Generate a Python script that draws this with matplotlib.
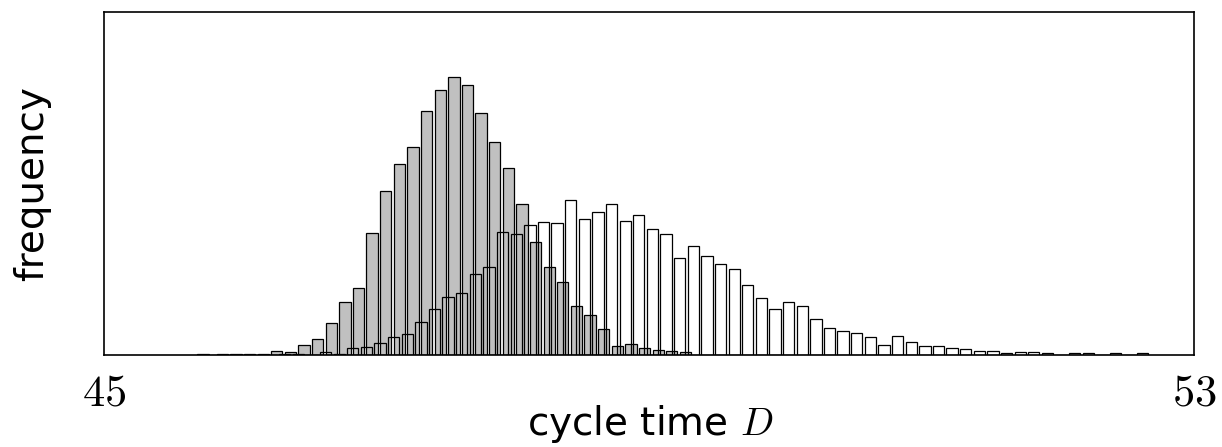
import numpy as np
import matplotlib
matplotlib.use("Agg")
import matplotlib.pyplot as plt

plt.rcParams['mathtext.fontset'] = 'cm'
plt.rcParams['font.family'] = ['DejaVu Sans']

# Histogram bin width and bar width (cycle-time units)
bin_width = 0.1
bar_width = 0.083

# Gray histogram: first bin centre and frequencies (arbitrary units)
gray_first_center = 45.866
gray_freq = [1, 0.5, 1, 1, 4, 3, 10, 16, 32, 53, 67, 122, 163, 190, 207, 243,
             264, 277, 269, 241, 212, 186, 150, 113, 88, 73, 49, 40, 26, 9,
             11, 7, 5, 3.5, 2.3]

# White histogram: first bin centre and frequencies (arbitrary units)
white_first_center = 45.724
white_freq = [1, 0, 0, 0, 0, 0, 0.5, 1, 0, 2.3, 0.5, 6.5, 7.3, 11.3, 17.3, 20.7,
              32.3, 45.7, 57.7, 61.3, 80.3, 87.7, 122.7, 121, 129.7, 132.3,
              131.3, 154, 136, 142.7, 150.3, 133.3, 139.3, 125.3, 120.5, 96.3,
              108.3, 98.3, 90.3, 85.7, 69.5, 56.5, 46, 52.2, 48.3, 36, 26.5, 24,
              22, 17.5, 10, 18.7, 12.7, 8.7, 8.7, 6.5, 5.7, 3.7, 3.7, 2, 2.7,
              2.7, 2, 0, 2, 2, 0, 2, 0, 1.5]

x_ticks = [45, 53]
x_tick_labels = ['$45$', '$53$']

gray_x = gray_first_center + bin_width * np.arange(len(gray_freq))
white_x = white_first_center + bin_width * np.arange(len(white_freq))

fig = plt.figure(figsize=(12.22, 4.47), dpi=100)
ax = fig.add_axes([0.0854, 0.2069, 0.8917, 0.7663])

ax.bar(gray_x, gray_freq, width=bar_width, color='#c0c0c0',
       edgecolor='black', linewidth=0.9, zorder=2)
ax.bar(white_x, white_freq, width=bar_width, facecolor='none',
       edgecolor='black', linewidth=0.9, zorder=3)

ax.set_xlim(45, 53)
ax.set_ylim(0, 342.5)
ax.set_yticks([])
ax.set_xticks(x_ticks)
ax.set_xticklabels(x_tick_labels, fontsize=32)
ax.tick_params(axis='x', length=0, pad=12)
for s in ax.spines.values():
    s.set_linewidth(1.2)
    s.set_zorder(5)

fig.text(0.532, 0.052, 'cycle time $D$', fontsize=28, ha='center', va='center')
fig.text(0.026, 0.59, 'frequency', fontsize=28, ha='center', va='center',
         rotation=90)

fig.savefig('out.png', dpi=100)
